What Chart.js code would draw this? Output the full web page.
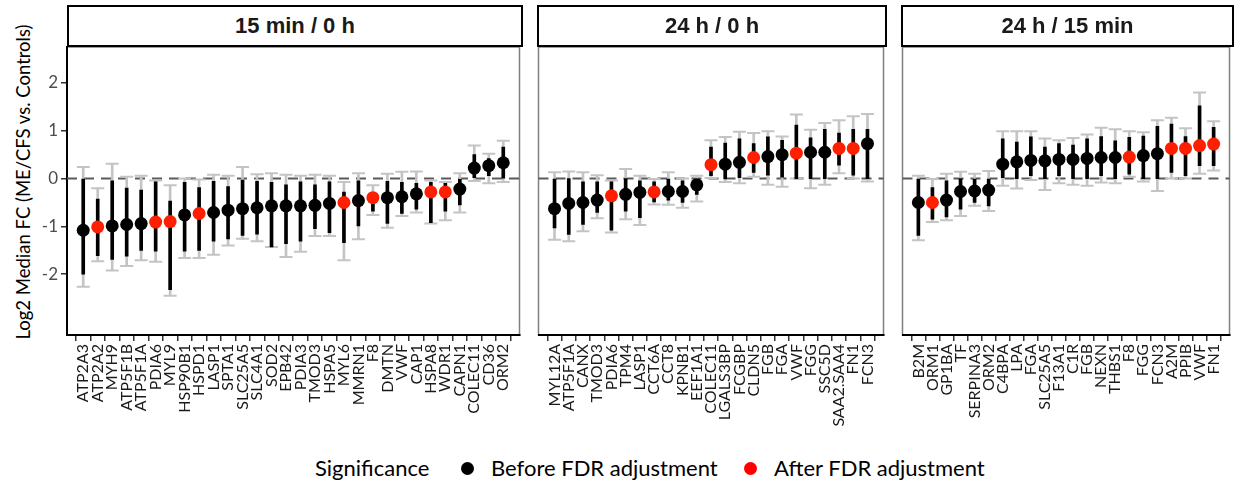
<!DOCTYPE html>
<html>
<head>
<meta charset="utf-8">
<script src="https://cdn.jsdelivr.net/npm/chart.js@4.4.0/dist/chart.umd.min.js"></script>
<style>
  body { margin: 0; background: #fff; }
  #wrap { position: relative; width: 1238px; height: 482px; font-family: Lato, sans-serif; color: #000; }
  canvas { position: absolute; top: 0; }
  .strip {
    position: absolute; top: 5px; height: 42px; box-sizing: border-box;
    border: 2px solid #000; background: #fff;
    font: bold 22px "Liberation Sans", Arial, sans-serif; color: #1a1a1a;
    display: flex; align-items: center; justify-content: center;
  }
  #ytitle {
    position: absolute; left: 23px; top: 182px; white-space: nowrap;
    transform: translate(-50%, -50%) rotate(-90deg); font-size: 18.5px;
  }
  .leg { position: absolute; top: 455px; font-size: 22px; line-height: 26px; white-space: nowrap; }
  .dot { position: absolute; top: 462px; width: 13px; height: 13px; border-radius: 50%; }
</style>
</head>
<body>
<div id="wrap">
  <div id="ytitle">Log2 Median FC (ME/CFS vs. Controls)</div>

  <canvas id="p1" width="528" height="440" style="left:0px;width:528px;height:440px"></canvas>
  <canvas id="p2" width="362" height="440" style="left:530px;width:362px;height:440px"></canvas>
  <canvas id="p3" width="344" height="440" style="left:894px;width:344px;height:440px"></canvas>

  <div class="strip" style="left:67px;width:456px">15 min / 0 h</div>
  <div class="strip" style="left:537px;width:350px">24 h / 0 h</div>
  <div class="strip" style="left:901px;width:333px">24 h / 15 min</div>

  <span class="leg" style="left:315px">Significance</span>
  <span class="dot" style="left:461px;background:#000"></span>
  <span class="leg" style="left:491px">Before FDR adjustment</span>
  <span class="dot" style="left:744px;background:#ff0000"></span>
  <span class="leg" style="left:774px">After FDR adjustment</span>
</div>

<script>
// 15 min / 0 h
const genesA = ['ATP2A3', 'ATP2A2', 'MYH9', 'ATP5F1B', 'ATP5F1A', 'PDIA6', 'MYL9', 'HSP90B1', 'HSPD1', 'LASP1',
  'SPTA1', 'SLC25A5', 'SLC4A1', 'SOD2', 'EPB42', 'PDIA3', 'TMOD3', 'HSPA5', 'MYL6', 'MMRN1',
  'F8', 'DMTN', 'VWF', 'CAP1', 'HSPA8', 'WDR1', 'CAPN1', 'COLEC11', 'CD36', 'ORM2'];
const medianA = [-1.08, -1.01, -0.99, -0.96, -0.94, -0.91, -0.90, -0.76, -0.73, -0.71,
  -0.66, -0.63, -0.61, -0.57, -0.57, -0.57, -0.56, -0.52, -0.50, -0.46,
  -0.40, -0.40, -0.38, -0.32, -0.28, -0.28, -0.22, 0.22, 0.27, 0.33];
const innerLoA = [-2.00, -1.61, -1.69, -1.62, -1.50, -1.52, -2.32, -1.52, -1.50, -1.31,
  -1.26, -1.19, -1.16, -1.43, -1.36, -1.31, -1.05, -1.13, -1.34, -0.99,
  -0.68, -0.94, -0.73, -0.64, -0.92, -0.68, -0.55, 0.02, 0.06, 0.01];
const innerHiA = [-0.01, -0.43, -0.05, -0.20, -0.24, -0.07, -0.47, -0.08, -0.19, -0.06,
  -0.17, -0.03, -0.06, -0.08, -0.13, -0.07, -0.13, -0.07, -0.28, -0.05,
  -0.31, -0.06, -0.08, -0.10, -0.08, -0.10, 0.00, 0.50, 0.42, 0.66];
const outerLoA = [-2.26, -1.73, -1.92, -1.83, -1.71, -1.74, -2.45, -1.66, -1.66, -1.59,
  -1.40, -1.26, -1.31, -1.43, -1.64, -1.53, -1.20, -1.20, -1.71, -1.27,
  -0.76, -1.03, -0.78, -0.71, -0.94, -0.87, -0.71, -0.05, -0.10, -0.07];
const outerHiA = [0.24, -0.20, 0.31, 0.04, 0.06, -0.04, -0.14, 0.00, -0.02, 0.08,
  0.06, 0.24, 0.09, 0.11, 0.08, 0.06, 0.08, 0.06, -0.07, 0.11,
  -0.14, 0.10, 0.14, 0.15, -0.04, -0.07, 0.11, 0.69, 0.52, 0.79];
const fdrA = [0, 1, 0, 0, 0, 1, 1, 0, 1, 0, 0, 0, 0, 0, 0, 0, 0, 0, 1, 0, 1, 0, 0, 0, 1, 1, 0, 0, 0, 0];

// 24 h / 0 h
const genesB = ['MYL12A', 'ATP5F1A', 'CANX', 'TMOD3', 'PDIA6', 'TPM4', 'LASP1', 'CCT6A', 'CCT8', 'KPNB1',
  'EEF1A1', 'COLEC11', 'LGALS3BP', 'FCGBP', 'CLDN5', 'FGB', 'FGA', 'VWF', 'FGG', 'SSC5D',
  'SAA2.SAA4', 'FN1', 'FCN3'];
const medianB = [-0.63, -0.52, -0.50, -0.45, -0.36, -0.33, -0.29, -0.28, -0.27, -0.27,
  -0.13, 0.29, 0.30, 0.34, 0.44, 0.46, 0.50, 0.53, 0.55, 0.55,
  0.63, 0.63, 0.73];
const innerLoB = [-1.03, -1.17, -0.96, -0.71, -1.08, -0.68, -0.82, -0.49, -0.45, -0.50,
  -0.33, 0.06, -0.01, 0.02, 0.13, 0.07, 0.03, 0.00, 0.00, 0.00,
  0.28, 0.07, 0.00];
const innerHiB = [-0.01, 0.00, -0.07, -0.07, -0.07, 0.00, -0.05, -0.07, -0.01, -0.05,
  -0.05, 0.66, 0.74, 0.83, 0.73, 0.87, 0.80, 1.12, 0.85, 1.03,
  0.95, 1.03, 1.03];
const outerLoB = [-1.28, -1.31, -1.10, -0.83, -1.13, -0.85, -0.97, -0.54, -0.55, -0.61,
  -0.48, 0.01, -0.07, -0.10, 0.04, -0.13, -0.17, 0.00, -0.20, -0.13,
  0.11, 0.00, -0.06];
const outerHiB = [0.13, 0.15, 0.13, 0.07, -0.04, 0.20, 0.06, -0.01, 0.13, 0.00,
  0.06, 0.80, 0.87, 0.98, 0.95, 0.99, 0.88, 1.34, 1.02, 1.16,
  1.22, 1.30, 1.35];
const fdrB = [0, 0, 0, 0, 1, 0, 0, 1, 0, 0, 0, 1, 0, 0, 1, 0, 0, 1, 0, 0, 1, 1, 0];

// 24 h / 15 min
const genesC = ['B2M', 'ORM1', 'GP1BA', 'TF', 'SERPINA3', 'ORM2', 'C4BPA', 'LPA', 'FGA', 'SLC25A5',
  'F13A1', 'C1R', 'FGB', 'NEXN', 'THBS1', 'F8', 'FGG', 'FCN3', 'A2M', 'PPIB',
  'VWF', 'FN1'];
const medianC = [-0.50, -0.50, -0.45, -0.27, -0.26, -0.24, 0.30, 0.35, 0.38, 0.37,
  0.40, 0.40, 0.42, 0.44, 0.44, 0.45, 0.48, 0.52, 0.63, 0.63,
  0.69, 0.72];
const innerLoC = [-1.19, -0.85, -0.80, -0.64, -0.50, -0.57, 0.02, 0.00, 0.06, 0.00,
  0.06, 0.00, 0.00, 0.06, 0.00, 0.09, 0.00, 0.00, 0.13, 0.06,
  0.27, 0.27];
const innerHiC = [-0.01, -0.19, -0.05, 0.00, -0.01, -0.01, 0.83, 0.76, 0.87, 0.66,
  0.73, 0.70, 0.83, 0.88, 0.79, 0.86, 0.89, 1.09, 1.14, 0.88,
  1.52, 1.07];
const outerLoC = [-1.29, -0.91, -0.87, -0.78, -0.57, -0.68, -0.15, -0.21, -0.03, -0.24,
  -0.10, -0.13, -0.15, -0.08, -0.10, 0.04, -0.06, -0.26, 0.00, 0.00,
  0.10, 0.17];
const outerHiC = [0.06, -0.01, 0.10, 0.14, 0.10, 0.16, 0.99, 0.99, 0.99, 0.84,
  0.80, 0.85, 0.92, 1.06, 1.03, 0.99, 0.97, 1.22, 1.27, 1.05,
  1.80, 1.20];
const fdrC = [0, 1, 0, 0, 0, 0, 0, 0, 0, 0, 0, 0, 0, 0, 0, 1, 0, 0, 1, 1, 1, 1];

const yTicks = [-2, -1, 0, 1, 2];
const Y_MIN = -3.27, Y_MAX = 2.75;

const RED = '#ff1e00';
const GREY = '#c4c4c4';

// panel border + dashed zero line
const panelFrame = {
  id: 'panelFrame',
  beforeDraw(chart) {
    const { ctx, chartArea: a } = chart;
    ctx.save();
    ctx.strokeStyle = '#808080';
    ctx.lineWidth = 1.5;
    ctx.strokeRect(a.left, a.top, a.right - a.left, a.bottom - a.top);
    ctx.restore();
  },
  beforeDatasetsDraw(chart) {
    const { ctx, chartArea: a, scales } = chart;
    const y0 = scales.y.getPixelForValue(0);
    ctx.save();
    ctx.setLineDash([10, 7]);
    ctx.strokeStyle = '#5a5a5a';
    ctx.lineWidth = 2;
    ctx.beginPath();
    ctx.moveTo(a.left, y0);
    ctx.lineTo(a.right, y0);
    ctx.stroke();
    ctx.restore();
  }
};

function makePanel(id, genes, med, inLo, inHi, outLo, outHi, fdr, showY, padL, padR) {
  const pts = arr => arr.map((v, i) => ({ x: i, y: v }));
  const span = (lo, hi) => lo.map((v, i) => ({ x: i, y: [v, hi[i]] }));
  const cap = arr => ({
    type: 'line', data: pts(arr), showLine: false, pointStyle: 'line',
    pointRadius: 6.5, pointHoverRadius: 6.5, pointBorderWidth: 2,
    borderColor: GREY, pointBorderColor: GREY, order: 2
  });

  return new Chart(document.getElementById(id), {
    type: 'bar',
    data: {
      datasets: [
        {
          type: 'line', data: pts(med), showLine: false,
          pointRadius: 6.5, pointHoverRadius: 6.5, pointBorderWidth: 0,
          pointBackgroundColor: fdr.map(f => f ? RED : '#000'), order: 0
        },
        { type: 'bar', data: span(inLo, inHi), backgroundColor: '#000', barThickness: 3, grouped: false, order: 1 },
        cap(outHi),
        cap(outLo),
        { type: 'bar', data: span(outLo, outHi), backgroundColor: GREY, barThickness: 2, grouped: false, order: 3 }
      ]
    },
    options: {
      responsive: false,
      animation: false,
      events: [],
      layout: { padding: { top: 47, left: padL, right: padR, bottom: 0 } },
      plugins: { legend: { display: false }, tooltip: { enabled: false } },
      scales: {
        x: {
          type: 'linear',
          min: -0.6,
          max: genes.length - 0.4,
          afterBuildTicks: s => { s.ticks = genes.map((g, i) => ({ value: i })); },
          afterFit: s => { s.height = 105; s.paddingLeft = 0; s.paddingRight = 0; },
          ticks: {
            autoSkip: false, minRotation: 90, maxRotation: 90, padding: 3,
            color: '#1a1a1a', font: { family: 'Lato', size: 16 },
            callback: (v, i) => genes[i]
          },
          grid: { drawOnChartArea: false, drawTicks: true, tickLength: 6, color: '#333', lineWidth: 1.5 },
          border: { display: true, color: '#000', width: 2 }
        },
        y: {
          display: showY,
          min: Y_MIN,
          max: Y_MAX,
          afterBuildTicks: s => { s.ticks = yTicks.map(v => ({ value: v })); },
          afterFit: s => {
            s.width = showY ? 67 : 0;
            s.paddingTop = 0;
            s.paddingBottom = 0;
          },
          ticks: { color: '#4d4d4d', font: { family: 'Lato', size: 17 }, padding: 3 },
          grid: { drawOnChartArea: false, drawTicks: true, tickLength: 6, color: '#333', lineWidth: 1.5 },
          border: { display: true, color: '#000', width: 2 }
        }
      }
    },
    plugins: [panelFrame]
  });
}

makePanel('p1', genesA, medianA, innerLoA, innerHiA, outerLoA, outerHiA, fdrA, true, 0, 5);
makePanel('p2', genesB, medianB, innerLoB, innerHiB, outerLoB, outerHiB, fdrB, false, 7, 5);
makePanel('p3', genesC, medianC, innerLoC, innerHiC, outerLoC, outerHiC, fdrC, false, 7, 4);
</script>
</body>
</html>
